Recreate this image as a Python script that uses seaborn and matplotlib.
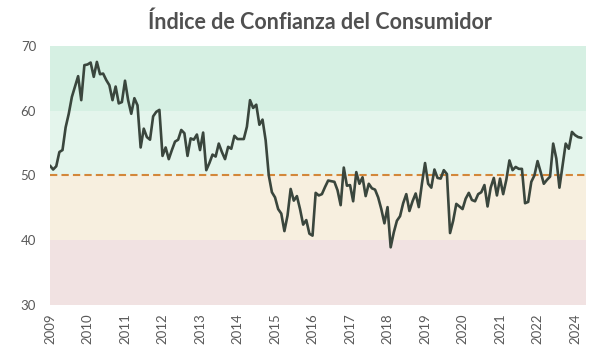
import matplotlib
matplotlib.use("Agg")
import matplotlib.pyplot as plt
import seaborn as sns
import pandas as pd
import numpy as np

title = "Índice de Confianza del Consumidor"

values = [
    51.5, 50.9, 51.4, 53.6, 53.9, 57.4, 59.5, 62.1, 63.7, 65.3, 61.6, 67.0,
    67.1, 67.4, 65.2, 67.5, 65.6, 65.7, 64.7, 63.9, 61.6, 63.7, 61.1, 61.3,
    64.6, 61.6, 59.5, 61.9, 60.8, 54.3, 57.2, 55.9, 55.5, 59.1, 59.8, 60.1,
    53.0, 54.3, 52.5, 53.9, 55.2, 55.5, 57.0, 56.5, 53.0, 55.7, 55.5, 56.3,
    53.9, 56.6, 50.8, 51.9, 53.2, 52.9, 54.9, 53.6, 52.5, 54.4, 54.1, 56.1,
    55.6, 55.6, 55.6, 57.5, 61.6, 60.4, 60.9, 57.8, 58.6, 55.4, 50.0, 47.4,
    46.6, 44.8, 44.1, 41.4, 43.8, 47.9, 46.1, 46.8, 44.8, 42.4, 43.1, 41.0,
    40.7, 47.3, 46.9, 47.1, 48.2, 49.2, 49.1, 49.0, 47.7, 45.4, 51.2, 48.4,
    48.5, 46.0, 50.5, 48.7, 49.7, 46.8, 48.7, 48.0, 47.8, 46.6, 44.8, 42.6,
    45.1, 38.9, 41.2, 43.0, 43.7, 45.7, 47.1, 44.5, 46.0, 47.2, 45.1, 48.7,
    51.9, 48.7, 48.1, 50.9, 49.6, 49.5, 50.8, 50.2, 41.1, 43.0, 45.6, 45.2,
    44.8, 46.4, 47.3, 46.2, 46.0, 47.1, 47.4, 48.5, 45.2, 48.1, 49.6, 46.9,
    49.5, 47.1, 49.3, 52.3, 50.8, 51.3, 51.0, 51.0, 45.7, 45.9, 49.0, 50.0,
    52.2, 50.5, 48.7, 49.3, 49.8, 54.9, 52.6, 48.1, 51.5, 54.9, 54.1, 56.7,
    56.2, 55.9, 55.8,
]

tick_labels = ["2009", "2010", "2011", "2012", "2013", "2014", "2015", "2016",
               "2017", "2018", "2019", "2020", "2021", "2022", "2024"]
label_every = 12

bands = [(60, 70, "#d6f0e3"), (50, 60, "#e4f5ec"), (40, 50, "#f7efdf"), (30, 40, "#f1e2e2")]
neutral = 50

df = pd.DataFrame({"idx": np.arange(len(values)), "valor": values})

sns.set_theme(style="white")
plt.rcParams["font.family"] = ["Lato", "DejaVu Sans"]

fig = plt.figure(figsize=(6.04, 3.61), dpi=100)
ax = fig.add_axes([50 / 604, 1 - 305 / 361, 536 / 604, (305 - 45.7) / 361])

for lo, hi, c in bands:
    ax.axhspan(lo, hi, color=c, lw=0, zorder=0)

ax.axhline(neutral, color="#d3873a", lw=1.5, ls=(0, (3.5, 2)), zorder=1)

sns.lineplot(data=df, x="idx", y="valor", ax=ax, color="#3a463d", lw=1.9, zorder=2)

ax.set_xlim(0, len(values) + 0.5)
ax.set_ylim(30, 70)
ax.set_yticks([30, 40, 50, 60, 70])
ax.set_xticks(np.arange(len(tick_labels)) * label_every)
ax.set_xticklabels(tick_labels, rotation=90)
ax.set_xlabel("")
ax.set_ylabel("")
ax.tick_params(axis="both", length=0, labelsize=9.5, colors="#595959")
ax.tick_params(axis="y", pad=10)
ax.tick_params(axis="x", pad=6)
for s in ax.spines.values():
    s.set_visible(False)

fig.text(0.529, 1 - 22 / 361, title, ha="center", va="center",
         fontsize=15.5, fontweight="bold", color="#505050")

fig.savefig("out.png", dpi=100)
